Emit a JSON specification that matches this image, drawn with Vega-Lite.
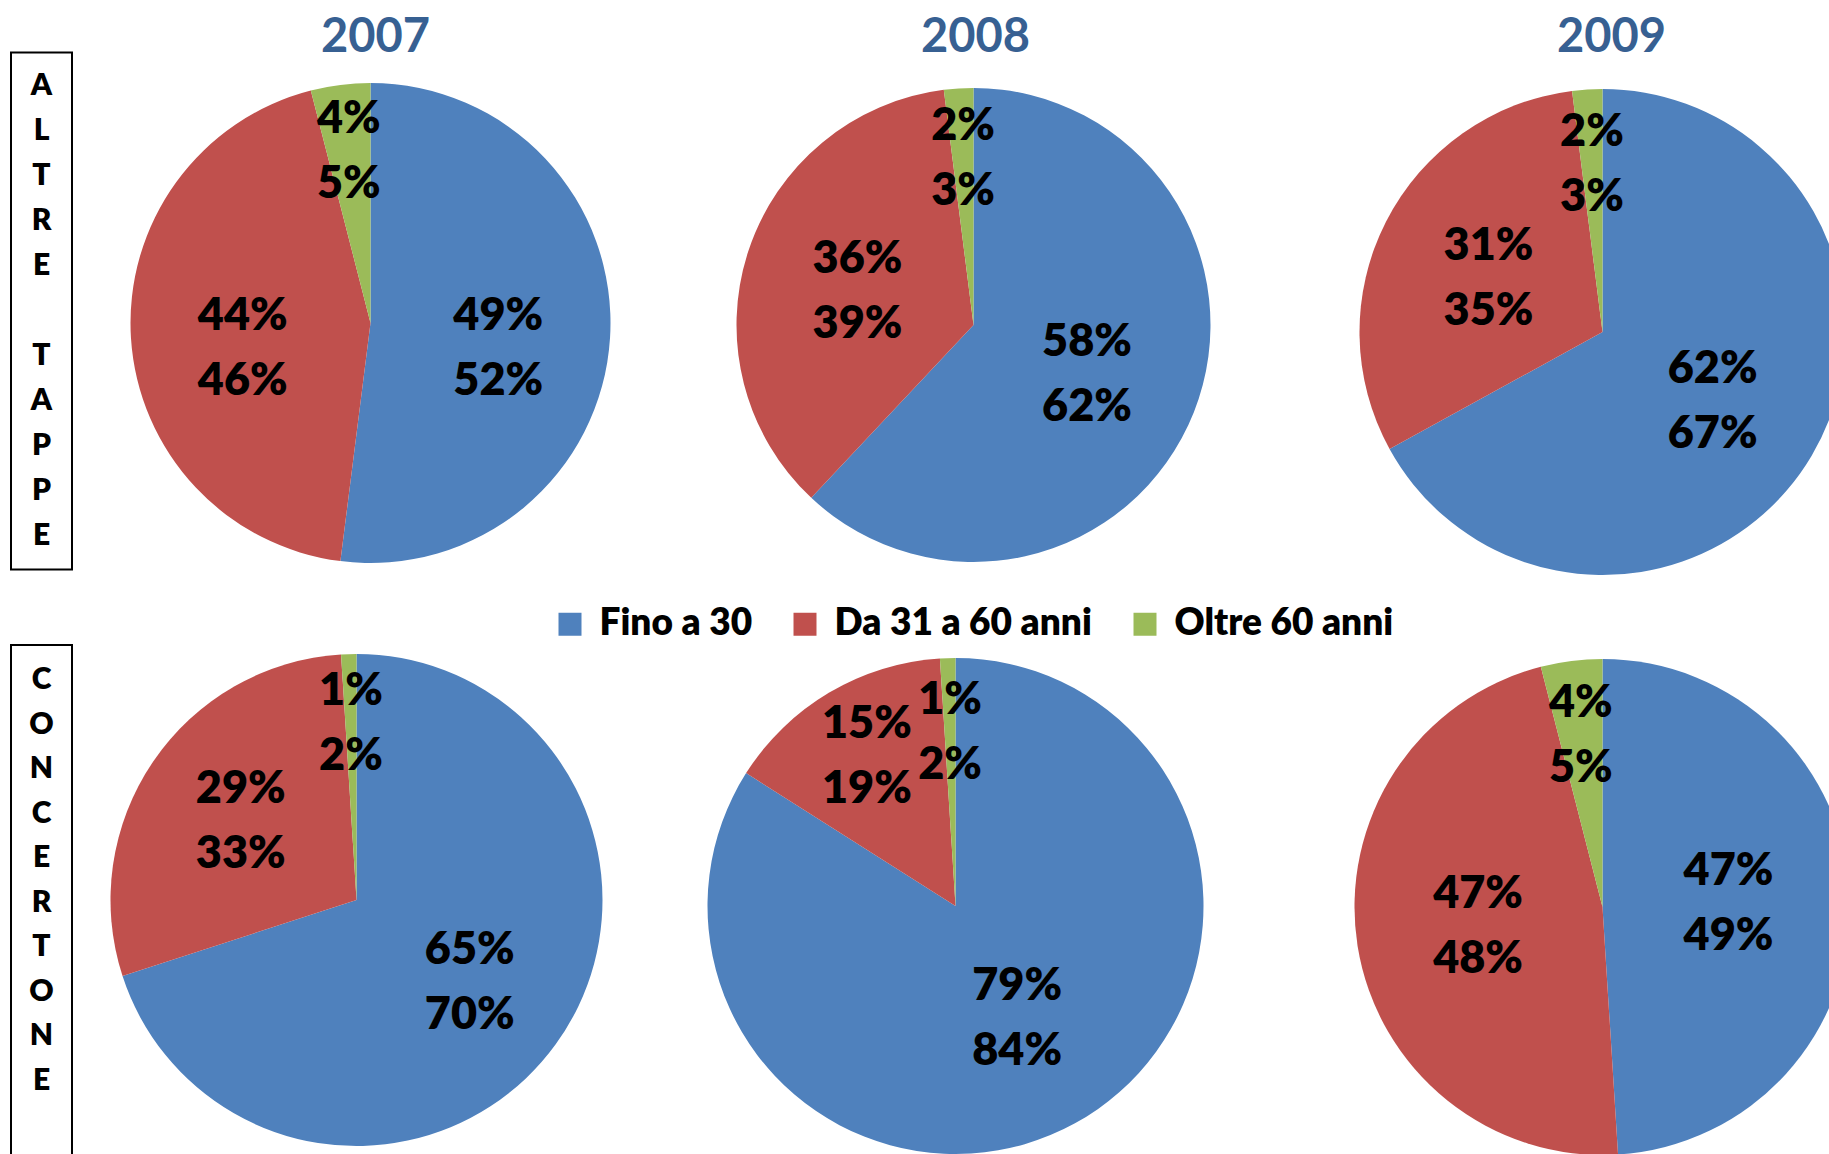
{
  "$schema": "https://vega.github.io/schema/vega-lite/v6.json",
  "background": "white",
  "padding": {"left": 10, "top": 13.5, "right": 0, "bottom": 0},
  "autosize": {"type": "pad"},
  "datasets": {
    "pies": [
      {"pie": "A07", "k": 1, "cat": "Fino a 30", "v": 52, "lab": "49%\n52%"},
      {"pie": "A07", "k": 2, "cat": "Da 31 a 60 anni", "v": 44, "lab": "44%\n46%"},
      {"pie": "A07", "k": 3, "cat": "Oltre 60 anni", "v": 4, "lab": "4%\n5%"},
      {"pie": "A08", "k": 1, "cat": "Fino a 30", "v": 62, "lab": "58%\n62%"},
      {"pie": "A08", "k": 2, "cat": "Da 31 a 60 anni", "v": 36, "lab": "36%\n39%"},
      {"pie": "A08", "k": 3, "cat": "Oltre 60 anni", "v": 2, "lab": "2%\n3%"},
      {"pie": "A09", "k": 1, "cat": "Fino a 30", "v": 67, "lab": "62%\n67%"},
      {"pie": "A09", "k": 2, "cat": "Da 31 a 60 anni", "v": 31, "lab": "31%\n35%"},
      {"pie": "A09", "k": 3, "cat": "Oltre 60 anni", "v": 2, "lab": "2%\n3%"},
      {"pie": "C07", "k": 1, "cat": "Fino a 30", "v": 70, "lab": "65%\n70%"},
      {"pie": "C07", "k": 2, "cat": "Da 31 a 60 anni", "v": 29, "lab": "29%\n33%"},
      {"pie": "C07", "k": 3, "cat": "Oltre 60 anni", "v": 1, "lab": "1%\n2%"},
      {"pie": "C08", "k": 1, "cat": "Fino a 30", "v": 84, "lab": "79%\n84%"},
      {"pie": "C08", "k": 2, "cat": "Da 31 a 60 anni", "v": 15, "lab": "15%\n19%"},
      {"pie": "C08", "k": 3, "cat": "Oltre 60 anni", "v": 1, "lab": "1%\n2%"},
      {"pie": "C09", "k": 1, "cat": "Fino a 30", "v": 49, "lab": "47%\n49%"},
      {"pie": "C09", "k": 2, "cat": "Da 31 a 60 anni", "v": 47, "lab": "47%\n48%"},
      {"pie": "C09", "k": 3, "cat": "Oltre 60 anni", "v": 4, "lab": "4%\n5%"}
    ],
    "box1": [
      {"i": 0, "ch": "A"}, {"i": 1, "ch": "L"}, {"i": 2, "ch": "T"}, {"i": 3, "ch": "R"}, {"i": 4, "ch": "E"},
      {"i": 6, "ch": "T"}, {"i": 7, "ch": "A"}, {"i": 8, "ch": "P"}, {"i": 9, "ch": "P"}, {"i": 10, "ch": "E"}
    ],
    "box2": [
      {"i": 0, "ch": "C"}, {"i": 1, "ch": "O"}, {"i": 2, "ch": "N"}, {"i": 3, "ch": "C"}, {"i": 4, "ch": "E"},
      {"i": 5, "ch": "R"}, {"i": 6, "ch": "T"}, {"i": 7, "ch": "O"}, {"i": 8, "ch": "N"}, {"i": 9, "ch": "E"}
    ]
  },
  "concat": [
    {
      "width": 61, "height": 517,
      "view": {"stroke": "black", "strokeWidth": 2},
      "data": {"name": "box1"},
      "mark": {"type": "text", "fontSize": 30, "dy": 0},
      "encoding": {
        "y": {"field": "i", "type": "ordinal", "scale": {"type": "point", "padding": 0.75, "domain": [0,1,2,3,4,5,6,7,8,9,10]}, "axis": null},
        "text": {"field": "ch", "type": "nominal"}
      }
    },
    {
      "width": 597, "height": 541,
      "title": {"text": "2007", "dx": 5, "dy": 13},
      "data": {"name": "pies"},
      "transform": [{"filter": "datum.pie == 'A07'"}],
      "encoding": {
        "theta": {"field": "v", "type": "quantitative", "stack": true},
        "order": {"field": "k", "type": "quantitative"},
        "detail": {"field": "cat", "type": "nominal"}
      },
      "layer": [
        {"mark": {"type": "arc", "radius": 240}, "encoding": {"color": {"field": "cat", "type": "nominal", "scale": {"domain": ["Fino a 30", "Da 31 a 60 anni", "Oltre 60 anni"], "range": ["#4F81BD", "#C0504D", "#9BBB59"]}, "legend": {"orient": "none", "legendX": 540.5, "legendY": 553, "direction": "horizontal", "title": null, "symbolType": "square", "symbolSize": 529, "symbolStrokeWidth": 0, "labelFont": "Lato", "labelFontWeight": 800, "labelFontSize": 37, "labelColor": "black", "labelOffset": 11, "columnPadding": 34, "labelLimit": 600, "padding": 0}}}},
        {"mark": {"type": "text", "radius": 128, "dy": -15}, "encoding": {"text": {"condition": {"test": "datum.k == 3", "value": ""}, "field": "lab", "type": "nominal"}}},
        {"mark": {"type": "text", "radius": 173}, "encoding": {"text": {"condition": {"test": "datum.k != 3", "value": ""}, "field": "lab", "type": "nominal"}}}
      ]
    },
    {
      "width": 609, "height": 545,
      "title": {"text": "2008", "dx": 2, "dy": 13},
      "data": {"name": "pies"},
      "transform": [{"filter": "datum.pie == 'A08'"}],
      "encoding": {
        "theta": {"field": "v", "type": "quantitative", "stack": true},
        "order": {"field": "k", "type": "quantitative"},
        "detail": {"field": "cat", "type": "nominal"}
      },
      "layer": [
        {"mark": {"type": "arc", "radius": 237}, "encoding": {"color": {"field": "cat", "type": "nominal", "scale": {"domain": ["Fino a 30", "Da 31 a 60 anni", "Oltre 60 anni"], "range": ["#4F81BD", "#C0504D", "#9BBB59"]}, "legend": {"orient": "none", "legendX": 540.5, "legendY": 553, "direction": "horizontal", "title": null, "symbolType": "square", "symbolSize": 529, "symbolStrokeWidth": 0, "labelFont": "Lato", "labelFontWeight": 800, "labelFontSize": 37, "labelColor": "black", "labelOffset": 11, "columnPadding": 34, "labelLimit": 600, "padding": 0}}}},
        {"mark": {"type": "text", "radius": 122, "dy": -28}, "encoding": {"text": {"condition": {"test": "datum.k == 3", "value": ""}, "field": "lab", "type": "nominal"}}},
        {"mark": {"type": "text", "radius": 167}, "encoding": {"text": {"condition": {"test": "datum.k != 3", "value": ""}, "field": "lab", "type": "nominal"}}}
      ]
    },
    {
      "width": 649, "height": 559,
      "title": {"text": "2009", "dx": 9, "dy": 13},
      "data": {"name": "pies"},
      "transform": [{"filter": "datum.pie == 'A09'"}],
      "encoding": {
        "theta": {"field": "v", "type": "quantitative", "stack": true},
        "order": {"field": "k", "type": "quantitative"},
        "detail": {"field": "cat", "type": "nominal"}
      },
      "layer": [
        {"mark": {"type": "arc", "radius": 243}, "encoding": {"color": {"field": "cat", "type": "nominal", "scale": {"domain": ["Fino a 30", "Da 31 a 60 anni", "Oltre 60 anni"], "range": ["#4F81BD", "#C0504D", "#9BBB59"]}, "legend": {"orient": "none", "legendX": 540.5, "legendY": 553, "direction": "horizontal", "title": null, "symbolType": "square", "symbolSize": 529, "symbolStrokeWidth": 0, "labelFont": "Lato", "labelFontWeight": 800, "labelFontSize": 37, "labelColor": "black", "labelOffset": 11, "columnPadding": 34, "labelLimit": 600, "padding": 0}}}},
        {"mark": {"type": "text", "radius": 128, "dy": -28}, "encoding": {"text": {"condition": {"test": "datum.k == 3", "value": ""}, "field": "lab", "type": "nominal"}}},
        {"mark": {"type": "text", "radius": 168}, "encoding": {"text": {"condition": {"test": "datum.k != 3", "value": ""}, "field": "lab", "type": "nominal"}}}
      ]
    },
    {
      "width": 61, "height": 560,
      "view": {"stroke": "black", "strokeWidth": 2},
      "data": {"name": "box2"},
      "mark": {"type": "text", "fontSize": 30, "dy": 0},
      "encoding": {
        "y": {"field": "i", "type": "ordinal", "scale": {"type": "point", "padding": 0.785, "domain": [0,1,2,3,4,5,6,7,8,9,10,11]}, "axis": null},
        "text": {"field": "ch", "type": "nominal"}
      }
    },
    {
      "width": 569, "height": 510,
      "data": {"name": "pies"},
      "transform": [{"filter": "datum.pie == 'C07'"}],
      "encoding": {
        "theta": {"field": "v", "type": "quantitative", "stack": true},
        "order": {"field": "k", "type": "quantitative"},
        "detail": {"field": "cat", "type": "nominal"}
      },
      "layer": [
        {"mark": {"type": "arc", "radius": 246}, "encoding": {"color": {"field": "cat", "type": "nominal", "scale": {"domain": ["Fino a 30", "Da 31 a 60 anni", "Oltre 60 anni"], "range": ["#4F81BD", "#C0504D", "#9BBB59"]}, "legend": {"orient": "none", "legendX": 540.5, "legendY": 553, "direction": "horizontal", "title": null, "symbolType": "square", "symbolSize": 529, "symbolStrokeWidth": 0, "labelFont": "Lato", "labelFontWeight": 800, "labelFontSize": 37, "labelColor": "black", "labelOffset": 11, "columnPadding": 34, "labelLimit": 600, "padding": 0}}}},
        {"mark": {"type": "text", "radius": 140}, "encoding": {"text": {"condition": {"test": "datum.k == 3", "value": ""}, "field": "lab", "type": "nominal"}}},
        {"mark": {"type": "text", "radius": 177}, "encoding": {"text": {"condition": {"test": "datum.k != 3", "value": ""}, "field": "lab", "type": "nominal"}}}
      ]
    },
    {
      "width": 573, "height": 522,
      "data": {"name": "pies"},
      "transform": [{"filter": "datum.pie == 'C08'"}],
      "encoding": {
        "theta": {"field": "v", "type": "quantitative", "stack": true},
        "order": {"field": "k", "type": "quantitative"},
        "detail": {"field": "cat", "type": "nominal"}
      },
      "layer": [
        {"mark": {"type": "arc", "radius": 248}, "encoding": {"color": {"field": "cat", "type": "nominal", "scale": {"domain": ["Fino a 30", "Da 31 a 60 anni", "Oltre 60 anni"], "range": ["#4F81BD", "#C0504D", "#9BBB59"]}, "legend": {"orient": "none", "legendX": 540.5, "legendY": 553, "direction": "horizontal", "title": null, "symbolType": "square", "symbolSize": 529, "symbolStrokeWidth": 0, "labelFont": "Lato", "labelFontWeight": 800, "labelFontSize": 37, "labelColor": "black", "labelOffset": 11, "columnPadding": 34, "labelLimit": 600, "padding": 0}}}},
        {"mark": {"type": "text", "radius": 128}, "encoding": {"text": {"condition": {"test": "datum.k != 1", "value": ""}, "field": "lab", "type": "nominal"}}},
        {"mark": {"type": "text", "radius": 174}, "encoding": {"text": {"condition": {"test": "datum.k == 1", "value": ""}, "field": "lab", "type": "nominal"}}}
      ]
    },
    {
      "width": 649, "height": 524,
      "data": {"name": "pies"},
      "transform": [{"filter": "datum.pie == 'C09'"}],
      "encoding": {
        "theta": {"field": "v", "type": "quantitative", "stack": true},
        "order": {"field": "k", "type": "quantitative"},
        "detail": {"field": "cat", "type": "nominal"}
      },
      "layer": [
        {"mark": {"type": "arc", "radius": 248}, "encoding": {"color": {"field": "cat", "type": "nominal", "scale": {"domain": ["Fino a 30", "Da 31 a 60 anni", "Oltre 60 anni"], "range": ["#4F81BD", "#C0504D", "#9BBB59"]}, "legend": {"orient": "none", "legendX": 540.5, "legendY": 553, "direction": "horizontal", "title": null, "symbolType": "square", "symbolSize": 529, "symbolStrokeWidth": 0, "labelFont": "Lato", "labelFontWeight": 800, "labelFontSize": 37, "labelColor": "black", "labelOffset": 11, "columnPadding": 34, "labelLimit": 600, "padding": 0}}}},
        {"mark": {"type": "text", "radius": 126}, "encoding": {"text": {"condition": {"test": "datum.k == 3", "value": ""}, "field": "lab", "type": "nominal"}}},
        {"mark": {"type": "text", "radius": 173}, "encoding": {"text": {"condition": {"test": "datum.k != 3", "value": ""}, "field": "lab", "type": "nominal"}}}
      ]
    }
  ],
  "columns": 4,
  "align": {"row": "each", "column": "none"},
  "bounds": "flush",
  "spacing": {"row": 33.5, "column": 0},
  "resolve": {"scale": {"y": "independent", "theta": "independent", "color": "shared"}, "legend": {"color": "shared"}},
  "config": {
    "view": {"stroke": null},
    "font": "Lato",
    "title": {"font": "Lato", "fontWeight": "bold", "fontSize": 47, "color": "#376092", "offset": 0},
    "text": {"font": "Lato", "fontWeight": 800, "fontSize": 45, "lineHeight": 65, "lineBreak": "\n", "align": "center", "baseline": "middle", "dy": -32.5, "color": "black"}
  }
}
